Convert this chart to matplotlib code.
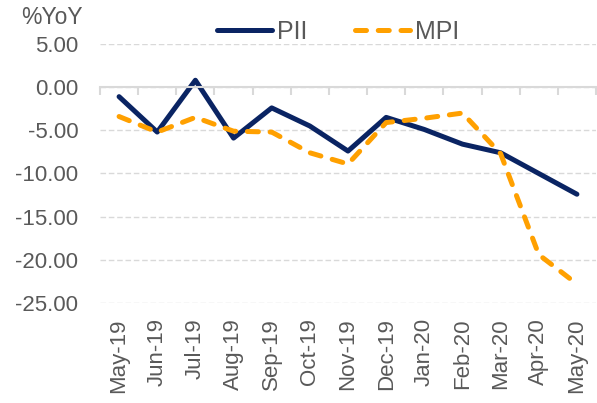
import matplotlib.pyplot as plt
from matplotlib.ticker import FuncFormatter

plt.rcParams['font.family'] = ['Liberation Sans', 'DejaVu Sans']

months = ["May-19", "Jun-19", "Jul-19", "Aug-19", "Sep-19", "Oct-19", "Nov-19",
          "Dec-19", "Jan-20", "Feb-20", "Mar-20", "Apr-20", "May-20"]
pii = [-1.1, -5.2, 0.8, -5.9, -2.4, -4.5, -7.4, -3.5, -4.9, -6.6, -7.6, -10.0, -12.4]
mpi = [-3.4, -5.2, -3.5, -5.1, -5.2, -7.6, -8.9, -4.1, -3.6, -3.0, -7.7, -19.4, -22.8]

navy = "#0A2463"
orange = "#FFA000"
grey_txt = "#595959"
grid_c = "#D9D9D9"

fig = plt.figure(figsize=(5.97, 4.03), dpi=100)
ax = fig.add_axes([100/597, 100/403, 496/597, 259/403])

x = list(range(len(months)))
ax.plot(x, pii, color=navy, lw=3.6, solid_capstyle='round', solid_joinstyle='round', label="PII")
ax.plot(x, mpi, color=orange, lw=3.6, linestyle=(0, (2.2, 2.35)), dash_capstyle='round',
        label="MPI")

ax.set_xlim(-0.5, len(months) - 0.5)
ax.set_ylim(-25, 5)
ax.set_yticks([5, 0, -5, -10, -15, -20, -25])
ax.yaxis.set_major_formatter(FuncFormatter(lambda v, p: f"{v:.2f}"))
ax.tick_params(axis='y', length=0, pad=15.5, labelsize=16, labelcolor=grey_txt)
ax.yaxis.grid(True, color=grid_c, linestyle=(0, (4, 2)), lw=1)
ax.set_axisbelow(True)

for s in ['top', 'right', 'left']:
    ax.spines[s].set_visible(False)
ax.spines['bottom'].set_position(('data', 0))
ax.spines['bottom'].set_color(grid_c)
ax.spines['bottom'].set_linewidth(1.5)
ax.set_xticks([i - 0.5 for i in range(len(months) + 1)])
ax.tick_params(axis='x', length=6, width=1.5, color=grid_c, labelbottom=False)

sec = ax.secondary_xaxis('bottom')
sec.set_xticks(x, months, rotation=90)
sec.spines['bottom'].set_visible(False)
sec.tick_params(length=0, pad=11, labelsize=16, labelcolor=grey_txt)

fig.text(83/597, 1 - 17/403, "%YoY", ha='right', va='center', fontsize=16.5, color=grey_txt)

fig.legend(loc='center', bbox_to_anchor=(338/597, 1 - 32/403), ncol=2, frameon=False,
           fontsize=18, labelcolor=grey_txt, handlelength=2.2, columnspacing=1.9,
           handletextpad=0.2)

fig.savefig("out.png", dpi=100)
